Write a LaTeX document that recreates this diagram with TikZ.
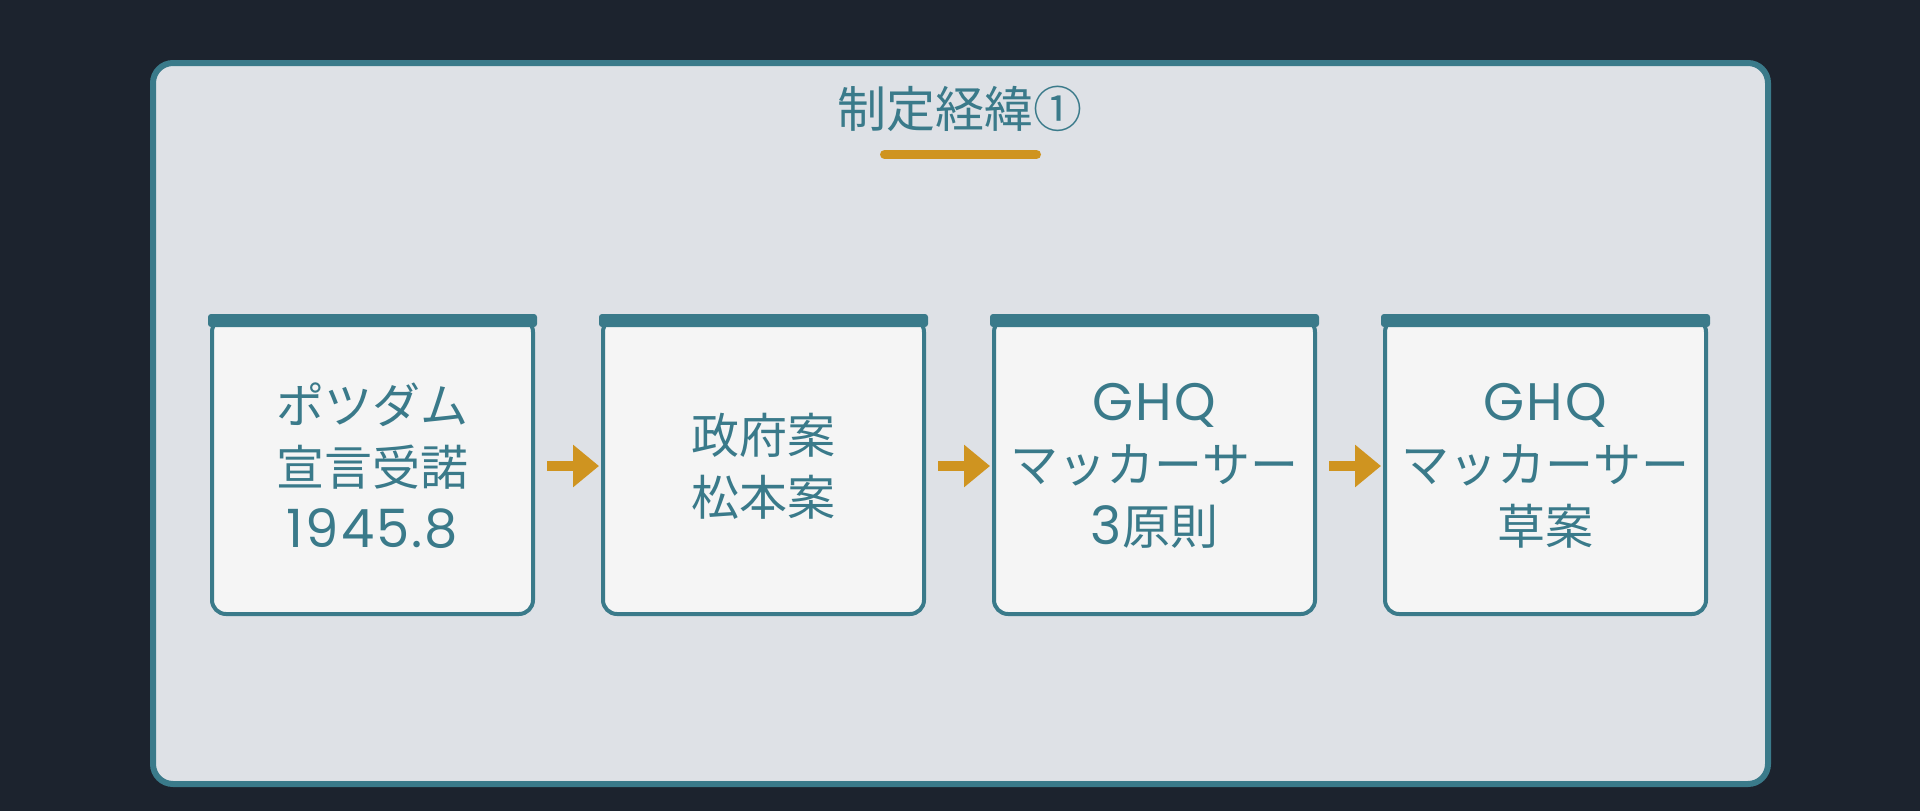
\documentclass[tikz,border=0pt]{standalone}
\usepackage{fontspec}
\setmainfont{Noto Sans CJK JP}
\newfontfamily\latf{Poppins}[Scale=1.1,LetterSpace=4]
\usetikzlibrary{arrows.meta}
\definecolor{bgdark}{HTML}{1C232E}
\definecolor{framefill}{HTML}{DEE1E6}
\definecolor{boxfill}{HTML}{F5F5F5}
\definecolor{tealc}{HTML}{3A7A8A}
\definecolor{goldc}{HTML}{CF9420}
\tikzset{
  stepbox/.style={draw=tealc, line width=4pt, fill=boxfill, rounded corners=14pt,
    minimum width=321pt, minimum height=296pt, inner sep=0pt, align=center,
    text=tealc, font=\fontsize{48}{62}\selectfont},
  flowarrow/.style={draw=goldc, line width=10pt, -{Triangle[length=26pt,width=41pt]}},
  topbar/.style={fill=tealc, rounded corners=3pt},
}
\begin{document}
\begin{tikzpicture}[x=1pt,y=-1pt]
\fill[bgdark] (0,0) rectangle (1920,811);
\useasboundingbox (0,0) rectangle (1920,811);
\draw[tealc, line width=6pt, fill=framefill, rounded corners=20pt] (153,63) rectangle (1768,784);
\node[text=tealc, font=\fontsize{49}{60}\selectfont, inner sep=0pt] (title) at (960,109) {制定経緯①};
\draw[goldc, line width=9pt, line cap=round] (884.5,154.5) -- (1036.5,154.5);

\node[stepbox] (b1) at (372.5,466) {ポツダム\\宣言受諾\\{\latf 1945.8}};
\node[stepbox] (b2) at (763.5,466) {政府案\\松本案};
\node[stepbox] (b3) at (1154.5,466) {{\latf GHQ}\\マッカーサー\\{\latf 3}原則};
\node[stepbox] (b4) at (1545.5,466) {{\latf GHQ}\\マッカーサー\\草案};

\foreach \b in {b1,b2,b3,b4}{
  \fill[topbar] ([xshift=-2pt,yshift=2pt]\b.north west) rectangle ([xshift=2pt,yshift=-11pt]\b.north east);
}

\draw[flowarrow] ([xshift=12pt]b1.east) -- ([xshift=-2pt]b2.west);
\draw[flowarrow] ([xshift=12pt]b2.east) -- ([xshift=-2pt]b3.west);
\draw[flowarrow] ([xshift=12pt]b3.east) -- ([xshift=-2pt]b4.west);
\end{tikzpicture}
\end{document}
